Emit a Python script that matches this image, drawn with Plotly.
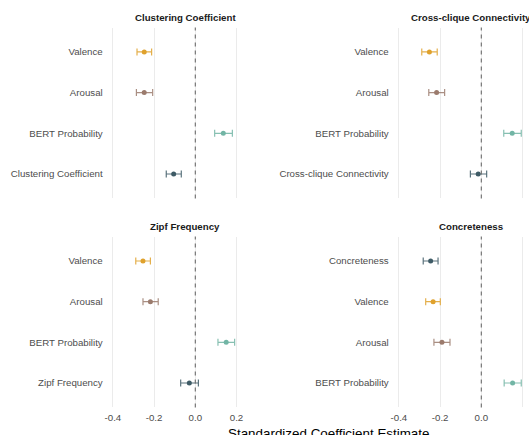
import plotly.graph_objects as go

W, H = 529, 435

# ---- data ----
panel_titles = ["Clustering Coefficient", "Cross-clique Connectivity",
                "Zipf Frequency", "Concreteness"]

p1_terms = ["Valence", "Arousal", "BERT Probability", "Clustering Coefficient"]
p1_est = [-0.248, -0.248, 0.136, -0.105]
p1_lo = [-0.283, -0.286, 0.094, -0.141]
p1_hi = [-0.212, -0.207, 0.180, -0.068]

p2_terms = ["Valence", "Arousal", "BERT Probability", "Cross-clique Connectivity"]
p2_est = [-0.252, -0.217, 0.150, -0.015]
p2_lo = [-0.289, -0.255, 0.109, -0.053]
p2_hi = [-0.214, -0.178, 0.194, 0.026]

p3_terms = ["Valence", "Arousal", "BERT Probability", "Zipf Frequency"]
p3_est = [-0.254, -0.218, 0.150, -0.029]
p3_lo = [-0.289, -0.254, 0.110, -0.071]
p3_hi = [-0.218, -0.180, 0.191, 0.015]

p4_terms = ["Concreteness", "Valence", "Arousal", "BERT Probability"]
p4_est = [-0.246, -0.234, -0.191, 0.152]
p4_lo = [-0.282, -0.270, -0.230, 0.111]
p4_hi = [-0.210, -0.199, -0.152, 0.194]

x_tickvals = [-0.4, -0.2, 0.0, 0.2]
x_ticktext = ["-0.4", "-0.2", "0.0", "0.2"]

x_title = "Standardized Coefficient Estimate"

# ---- styling ----
colors = {"Valence": "#DFA12C", "Arousal": "#9B7B6D", "BERT Probability": "#72B5A5"}
target_color = "#3E5B66"
font_family = "Liberation Sans, Arial, sans-serif"


def rgba(hex_color, a):
    h = hex_color.lstrip("#")
    r, g, b = int(h[0:2], 16), int(h[2:4], 16), int(h[4:6], 16)
    return f"rgba({r},{g},{b},{a})"


panels = [
    (p1_terms, p1_est, p1_lo, p1_hi, panel_titles[0]),
    (p2_terms, p2_est, p2_lo, p2_hi, panel_titles[1]),
    (p3_terms, p3_est, p3_lo, p3_hi, panel_titles[2]),
    (p4_terms, p4_est, p4_lo, p4_hi, panel_titles[3]),
]

# pixel layout
left_px = (105.7, 264.3)
right_px = (391.7, 529.0)
top_py = (27.5, 198.4)
bot_py = (236.6, 407.4)
x_min = -0.435
x_max_left = 0.335
x_max_right = (529.0 - 481.3) / 206.0

def xd(px):
    return [px[0] / W, px[1] / W]

def yd(py):
    return [1 - py[1] / H, 1 - py[0] / H]

geo = [
    (xd(left_px), yd(top_py), x_max_left, False, left_px, top_py),
    (xd(right_px), yd(top_py), x_max_right, False, right_px, top_py),
    (xd(left_px), yd(bot_py), x_max_left, True, left_px, bot_py),
    (xd(right_px), yd(bot_py), x_max_right, True, right_px, bot_py),
]

fig = go.Figure()
layout = dict(
    width=W, height=H,
    margin=dict(l=0, r=0, t=0, b=0),
    paper_bgcolor="white", plot_bgcolor="white",
    showlegend=False,
    font=dict(family=font_family, size=9.7, color="#4D4D4D"),
    shapes=[], annotations=[],
)

for i, ((terms, est, lo, hi, title), (xdom, ydom, xmax, show_x, pxr, pyr)) in enumerate(zip(panels, geo)):
    n = i + 1
    xa = "x" if n == 1 else f"x{n}"
    ya = "y" if n == 1 else f"y{n}"
    target = title
    for j, t in enumerate(terms):
        c = target_color if t == target else colors[t]
        fig.add_trace(go.Scatter(
            x=[est[j]], y=[j], mode="markers",
            marker=dict(color=c, size=5, line=dict(width=0)),
            error_x=dict(type="data", symmetric=False,
                         array=[hi[j] - est[j]], arrayminus=[est[j] - lo[j]],
                         color=rgba(c, 0.85), thickness=1.2, width=3.5),
            xaxis=xa, yaxis=ya, hoverinfo="skip",
        ))
    layout["xaxis" if n == 1 else f"xaxis{n}"] = dict(
        domain=xdom, range=[x_min, xmax], anchor=ya,
        tickvals=x_tickvals, ticktext=x_ticktext,
        showticklabels=show_x, ticks="", showline=False, zeroline=False,
        showgrid=True, gridcolor="#EBEBEB", gridwidth=1.1,
        ticklabelstandoff=3,
        tickfont=dict(size=9.7, color="#4D4D4D"),
    )
    layout["yaxis" if n == 1 else f"yaxis{n}"] = dict(
        domain=ydom, range=[3.6, -0.6], anchor=xa,
        tickvals=list(range(len(terms))), ticktext=terms,
        ticks="", showline=False, zeroline=False, showgrid=False,
        ticklabelstandoff=2,
        tickfont=dict(size=9.7, color="#4D4D4D"),
    )
    layout["shapes"].append(dict(
        type="line", xref=xa, yref=f"{ya} domain", x0=0, x1=0, y0=0, y1=1,
        line=dict(color="#6B6B6B", width=1.1, dash="4px,4px"), layer="above",
    ))
    cx = 195.3 - 0.05 * 206.0 if pxr[0] < 200 else 481.3 - 0.05 * 206.0
    layout["annotations"].append(dict(
        text=f"<b>{title}</b>", xref="paper", yref="paper",
        x=cx / W, y=1 - (pyr[0] - 10.3) / H, xanchor="center", yanchor="middle",
        showarrow=False, font=dict(size=9.7, color="#1A1A1A"),
    ))

layout["annotations"].append(dict(
    text=x_title, xref="paper", yref="paper",
    x=328.5 / W, y=1 - 433.0 / H, xanchor="center", yanchor="middle",
    showarrow=False, font=dict(size=13.4, color="#000000"),
))

fig.update_layout(**layout)
fig.write_html(
    "out.html",
    config={"displayModeBar": False},
    post_script="document.body.style.margin='0';document.body.style.overflow='hidden';",
)
